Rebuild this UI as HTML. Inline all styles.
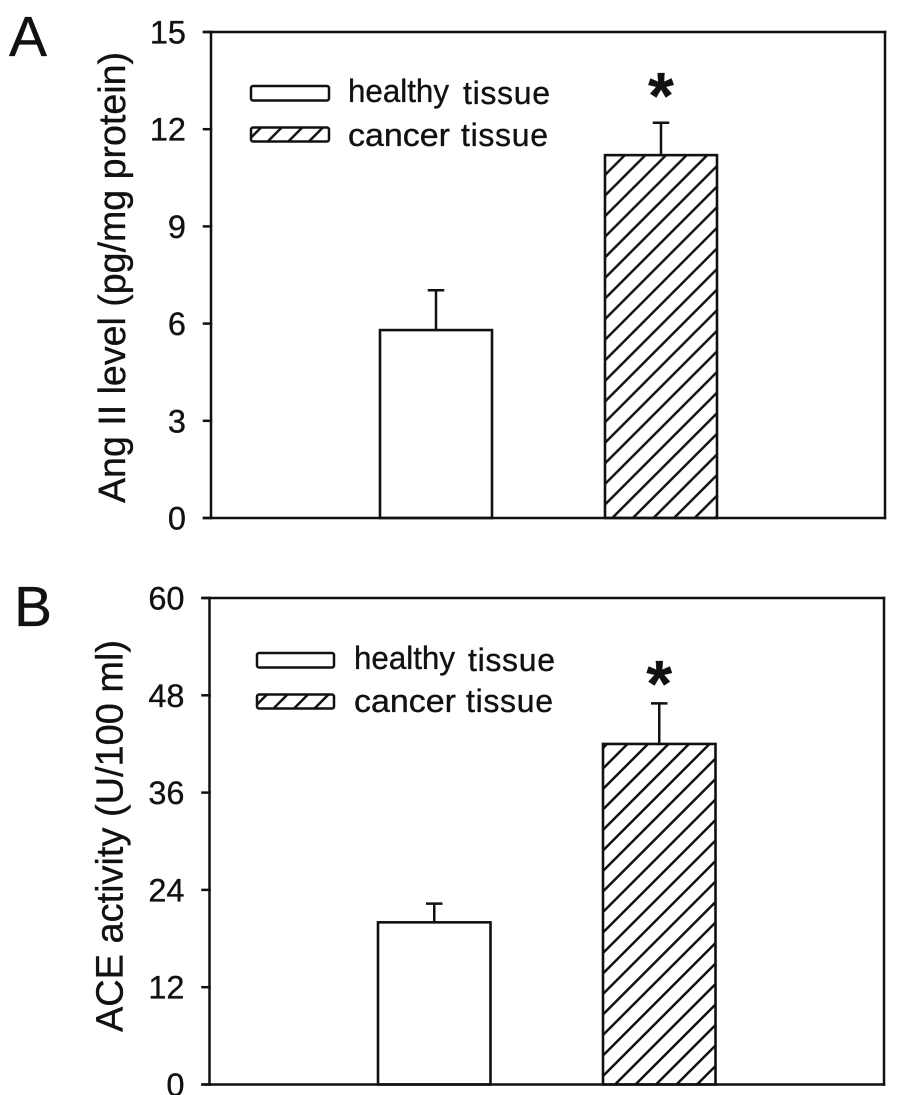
<!DOCTYPE html>
<html lang="en">
<head>
<meta charset="utf-8">
<title>Ang II level and ACE activity in healthy and cancer tissue</title>
<style>
html,body{margin:0;padding:0;background:#fff;}
svg{display:block;filter:blur(0.35px);}
text{font-family:"Liberation Sans",sans-serif;fill:#111;stroke:#111;stroke-width:0.35px;}
</style>
</head>
<body>
<svg id="figure" width="900" height="1095" viewBox="0 0 900 1095" xmlns="http://www.w3.org/2000/svg">
  <defs>
    <pattern id="hatch-a" patternUnits="userSpaceOnUse" x="17.8" y="0" width="20.6" height="20.6">
      <path d="M-2 22.6L22.6-2M-2 2L2-2M18.6 22.6L22.6 18.6" stroke="#111" stroke-width="2.5" fill="none"/>
    </pattern>
    <pattern id="hatch-b" patternUnits="userSpaceOnUse" x="18.5" y="0" width="20.5" height="20.5">
      <path d="M-2 22.5L22.5-2M-2 2L2-2M18.5 22.5L22.5 18.5" stroke="#111" stroke-width="2.5" fill="none"/>
    </pattern>
  </defs>

  <text x="9" y="56" font-size="57">A</text>
  <text x="14" y="626" font-size="57">B</text>

  <g id="panel-a"></g>
  <g id="panel-b"></g>

  <text transform="translate(125 503) rotate(-90)" font-size="38" textLength="451" lengthAdjust="spacingAndGlyphs">Ang II level (pg/mg protein)</text>
  <text transform="translate(122.5 1032) rotate(-90)" font-size="38" textLength="392" lengthAdjust="spacingAndGlyphs">ACE activity (U/100 ml)</text>

  <g>
    <g>
      <rect x="251" y="86" width="78" height="14.5" rx="2" fill="#fff" stroke="#111" stroke-width="2.5"/>
      <text x="348" y="102" font-size="32" textLength="101" lengthAdjust="spacingAndGlyphs">healthy</text>
      <text x="463" y="104" font-size="32" textLength="87" lengthAdjust="spacing">tissue</text>
    </g>
    <g>
      <rect x="251" y="127.5" width="78" height="14" rx="2" fill="url(#hatch-a)" stroke="#111" stroke-width="2.5"/>
      <text x="348" y="146" font-size="32" textLength="102" lengthAdjust="spacingAndGlyphs">cancer</text>
      <text x="461" y="146" font-size="32" textLength="87" lengthAdjust="spacing">tissue</text>
    </g>
  </g>
  <g>
    <g>
      <rect x="257" y="653" width="77" height="14.5" rx="2" fill="#fff" stroke="#111" stroke-width="2.5"/>
      <text x="354" y="669" font-size="32" textLength="101" lengthAdjust="spacingAndGlyphs">healthy</text>
      <text x="468" y="671" font-size="32" textLength="87" lengthAdjust="spacing">tissue</text>
    </g>
    <g>
      <rect x="257" y="694.5" width="77" height="14" rx="2" fill="url(#hatch-b)" stroke="#111" stroke-width="2.5"/>
      <text x="354" y="712" font-size="32" textLength="102" lengthAdjust="spacingAndGlyphs">cancer</text>
      <text x="466" y="712" font-size="32" textLength="87" lengthAdjust="spacing">tissue</text>
    </g>
  </g>
</svg>
<script>
var categories = ['healthy', 'cancer'];
var ticksA = [0, 3, 6, 9, 12, 15];
var meansA = [5.8, 11.2];
var errorsA = [1.23, 1.0];
var marksA = ['', '*'];
var ticksB = [0, 12, 24, 36, 48, 60];
var meansB = [20, 42];
var errorsB = [2.3, 5];
var marksB = ['', '*'];

var NS = 'http://www.w3.org/2000/svg';
function add(parent, tag, attrs, txt) {
  var el = document.createElementNS(NS, tag);
  for (var k in attrs) { el.setAttribute(k, attrs[k]); }
  if (txt !== undefined) { el.textContent = txt; }
  parent.appendChild(el);
  return el;
}
function line(parent, x1, y1, x2, y2) {
  return add(parent, 'line', {x1: x1, y1: y1, x2: x2, y2: y2, stroke: '#111', 'stroke-width': 2.5, 'stroke-linecap': 'square'});
}
function drawPanel(id, cfg, ticks, means, errors, marks) {
  var g = document.getElementById(id);
  var maxV = ticks[ticks.length - 1];
  function y(v) { return cfg.bottom - (v / maxV) * (cfg.bottom - cfg.top); }

  means.forEach(function (m, i) {
    var x0 = cfg.barX[i], cx = x0 + cfg.barW / 2;
    var err = add(g, 'g', {});
    
    
    line(err, cx, y(m), cx, y(m + errors[i]));
    line(err, cx - 7, y(m + errors[i]), cx + 7, y(m + errors[i]));
    var bar = add(g, 'rect', {x: x0, y: y(m), width: cfg.barW, height: y(0) - y(m),
      fill: i === 1 ? 'url(#' + cfg.hatch + ')' : '#fff', stroke: '#111', 'stroke-width': 2.6});
    
    
    if (marks[i]) {
      var star = add(g, 'text', {x: cx, y: y(m + errors[i]) + cfg.starGap, 'font-size': 66, 'font-weight': 'bold', 'text-anchor': 'middle'}, marks[i]);
      
      
    }
  });

  var axes = add(g, 'g', {});
  
  
  line(axes, cfg.left, cfg.top, cfg.left, cfg.bottom);
  line(axes, cfg.left - 7, cfg.top, cfg.right, cfg.top);
  line(axes, cfg.right, cfg.top, cfg.right, cfg.bottom);
  line(axes, cfg.left - 7, cfg.bottom, cfg.right, cfg.bottom);

  ticks.forEach(function (t) {
    var tk = line(g, cfg.left - 7, y(t), cfg.left, y(t));
    
    
    var lb = add(g, 'text', {x: cfg.left - 25, y: y(t) + 11.5, 'font-size': 32.5, 'text-anchor': 'end'}, String(t));
    
    
  });
}
drawPanel('panel-a', {left: 211, right: 885, top: 32, bottom: 518, barX: [380, 605], barW: 112, hatch: 'hatch-a', starGap: -4}, ticksA, meansA, errorsA, marksA);
drawPanel('panel-b', {left: 209.5, right: 884, top: 598, bottom: 1084.5, barX: [378, 603], barW: 112.5, hatch: 'hatch-b', starGap: 3}, ticksB, meansB, errorsB, marksB);
</script>
</body>
</html>
